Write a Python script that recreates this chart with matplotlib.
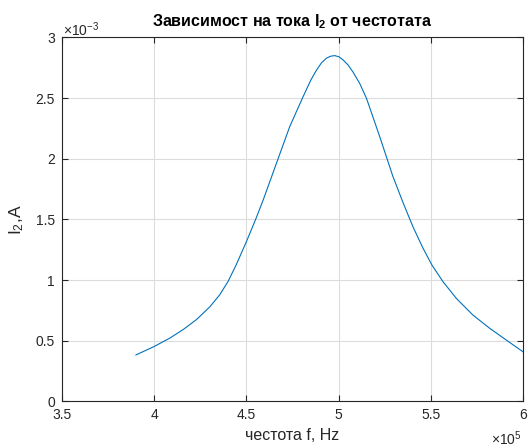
import numpy as np
import matplotlib
matplotlib.use("Agg")
import matplotlib.pyplot as plt
from matplotlib.ticker import FuncFormatter

plt.rcParams['font.family'] = ['Liberation Sans', 'DejaVu Sans']
plt.rcParams['mathtext.fontset'] = 'custom'
plt.rcParams['mathtext.rm'] = 'Liberation Sans'
plt.rcParams['mathtext.bf'] = 'Liberation Sans:bold'

# честота, x1e5 Hz
f = np.array([3.901, 3.998, 4.085, 4.157, 4.230, 4.302, 4.356, 4.401, 4.446,
              4.501, 4.550, 4.591, 4.663, 4.735, 4.807, 4.850, 4.880, 4.907,
              4.934, 4.957, 4.979, 5.002, 5.024, 5.051, 5.078, 5.114, 5.151,
              5.223, 5.295, 5.349, 5.403, 5.457, 5.506, 5.566, 5.638, 5.728,
              5.819, 5.909, 5.999]) * 1e5
# ток I2, x1e-3 A
I2 = np.array([0.383, 0.451, 0.522, 0.592, 0.675, 0.780, 0.880, 0.990, 1.130,
               1.320, 1.500, 1.660, 1.963, 2.265, 2.510, 2.650, 2.730, 2.790,
               2.829, 2.845, 2.850, 2.840, 2.815, 2.773, 2.715, 2.622, 2.499,
               2.182, 1.852, 1.640, 1.440, 1.265, 1.124, 0.987, 0.850, 0.712,
               0.603, 0.506, 0.410]) * 1e-3

W, H = 528, 448
fig = plt.figure(figsize=(W/100, H/100), dpi=100)
ax = fig.add_axes([62/W, (H-401.4)/H, (523-62)/W, 364/H])
ax.plot(f, I2, color='#0072BD', linewidth=0.8)

ax.set_xlim(3.5e5, 6e5)
ax.set_ylim(0, 3e-3)
ax.set_xticks(np.arange(3.5e5, 6.01e5, 0.5e5))
ax.set_yticks(np.arange(0, 3.01e-3, 0.5e-3))
ax.xaxis.set_major_formatter(FuncFormatter(lambda v, p: '%g' % round(v/1e5, 2)))
ax.yaxis.set_major_formatter(FuncFormatter(lambda v, p: '%g' % round(v/1e-3, 2)))

ax.grid(True, color='#dcdcdc', linewidth=0.8)
ax.set_axisbelow(True)
for s in ax.spines.values():
    s.set_color('#262626')
    s.set_linewidth(0.8)
ax.tick_params(direction='in', top=True, right=True, length=4, colors='#262626',
               labelsize=10, labelcolor='#262626', pad=5)

ax.set_title('Зависимост на тока $\\mathbf{I_2}$ от честотата', fontsize=11.5,
             fontweight='bold', pad=8)
ax.set_xlabel('честота f, Hz', fontsize=11.5, color='#262626', labelpad=4)
ax.set_ylabel('$\\mathrm{I_2}$,A', fontsize=12.5, color='#262626', labelpad=7)

fig.text(63/W, 1 - 36/H, '$\\times10^{-3}$', fontsize=10, color='#262626',
         ha='left', va='baseline')
fig.text(491/W, 1 - 445/H, '$\\times10^{5}$', fontsize=10, color='#262626',
         ha='left', va='baseline')

fig.savefig('out.png', dpi=100)
